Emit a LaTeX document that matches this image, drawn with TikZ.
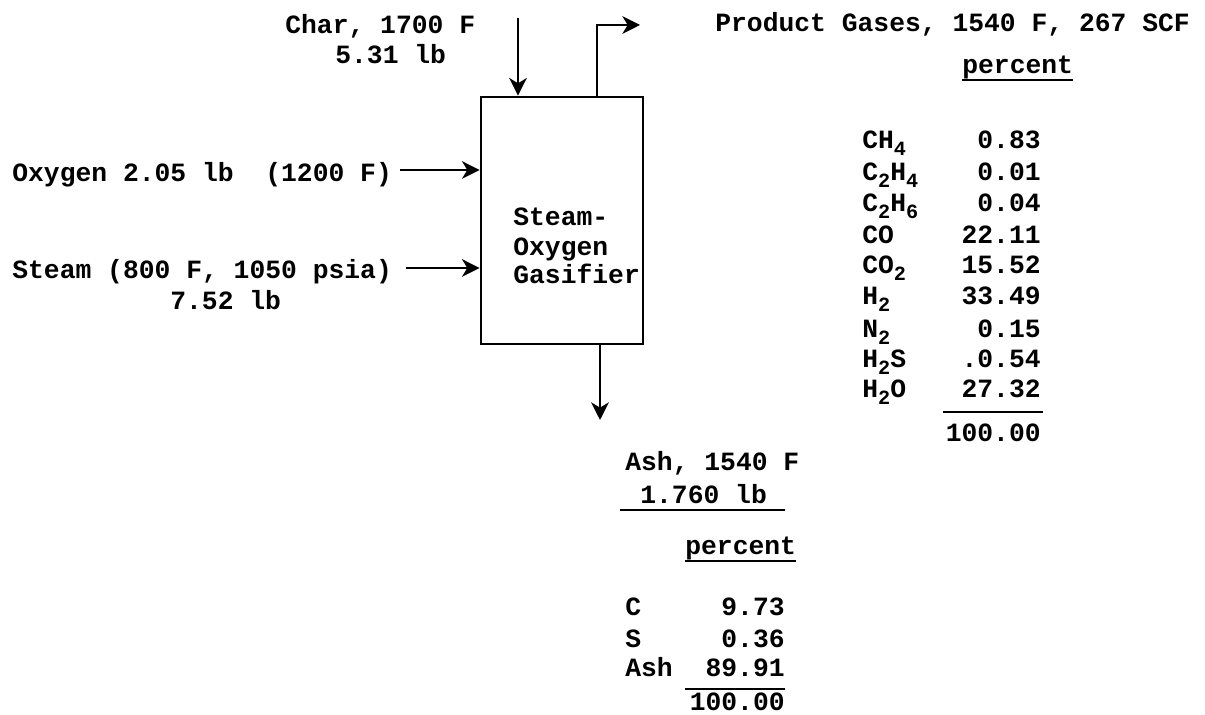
\documentclass[tikz,border=0pt]{standalone}
\usepackage{fontspec}
\setmonofont{Liberation Mono}
\usetikzlibrary{arrows.meta}
\newcommand\chsub[1]{\raisebox{-0.5ex}{\fontsize{11.5}{11.5}\selectfont #1}}
\tikzset{
  txt/.style={inner sep=0pt,font=\ttfamily\bfseries\fontsize{15}{18}\selectfont},
  arr/.style={line width=1.5pt,-{Stealth[length=10pt,width=10pt,inset=3pt]}},
  rule/.style={line width=1.3pt},
  vessel/.style={draw,line width=1.6pt,minimum width=3.24cm,minimum height=4.94cm,inner sep=0pt}
}
\begin{document}
\begin{tikzpicture}[x=0.02cm,y=-0.02cm]
\useasboundingbox (0,0) rectangle (1205,715);
% vessel
\node[vessel] (box) at (562,220.5) {};
\node[txt,anchor=base west] (t1) at (513,226) {Steam-};
\node[txt,anchor=base west] (t2) at (513,256) {Oxygen};
\node[txt,anchor=base west] (t3) at (513,284) {Gasifier};
% char in
\node[txt,anchor=base west] (char) at (285,34) {Char, 1700 F};
\node[txt,anchor=base west] (charw) at (335,64) {5.31 lb};
\coordinate (charin) at (518,18);
\draw[arr] (charin) -- (charin |- box.north);
% product gases out
\coordinate (gasup) at (597,25);
\coordinate (gasout) at (640,25);
\draw[arr] (gasup |- box.north) -- (gasup) -- (gasout);
\node[txt,anchor=base west] (prod) at (715,32) {Product Gases, 1540 F, 267 SCF};
\node[txt,anchor=base west] (pct1) at (962,74) {percent};
\draw[rule] (pct1.west |- 0,80) -- (pct1.east |- 0,80);
% oxygen
\node[txt,anchor=base west] (oxy) at (12,182) {Oxygen 2.05 lb\ \ (1200 F)};
\coordinate (oxin) at (400,170);
\draw[arr] (oxin) -- (oxin -| box.west);
% steam
\node[txt,anchor=base west] (steam) at (12,279) {Steam (800 F, 1050 psia)};
\node[txt,anchor=base west] (steamw) at (170,310) {7.52 lb};
\coordinate (stin) at (406,268);
\draw[arr] (stin) -- (stin -| box.west);
% gas table
\node[txt,anchor=base west] (g1) at (862,149) {CH\chsub{4}};
\node[txt,anchor=base west] (g2) at (862,181) {C\chsub{2}H\chsub{4}};
\node[txt,anchor=base west] (g3) at (862,212) {C\chsub{2}H\chsub{6}};
\node[txt,anchor=base west] (g4) at (862,244) {CO};
\node[txt,anchor=base west] (g5) at (862,274) {CO\chsub{2}};
\node[txt,anchor=base west] (g6) at (862,305) {H\chsub{2}};
\node[txt,anchor=base west] (g7) at (862,338) {N\chsub{2}};
\node[txt,anchor=base west] (g8) at (862,368) {H\chsub{2}S};
\node[txt,anchor=base west] (g9) at (862,398) {H\chsub{2}O};
\node[txt,anchor=base east] (v1) at (1041,149) {0.83};
\node[txt,anchor=base east] (v2) at (1041,181) {0.01};
\node[txt,anchor=base east] (v3) at (1041,212) {0.04};
\node[txt,anchor=base east] (v4) at (1041,244) {22.11};
\node[txt,anchor=base east] (v5) at (1041,274) {15.52};
\node[txt,anchor=base east] (v6) at (1041,305) {33.49};
\node[txt,anchor=base east] (v7) at (1041,338) {0.15};
\node[txt,anchor=base east] (v8) at (1041,368) {.0.54};
\node[txt,anchor=base east] (v9) at (1041,398) {27.32};
\draw[rule] (943,412) -- (1043,412);
\node[txt,anchor=base east] (vt) at (1041,442) {100.00};
% ash out
\coordinate (ashout) at (600,420);
\draw[arr] (ashout |- box.south) -- (ashout);
\node[txt,anchor=base west] (ash) at (625,471) {Ash, 1540 F};
\node[txt,anchor=base west] (ashw) at (640,504) {1.760 lb};
\draw[rule] (620,510) -- (785,510);
\node[txt,anchor=base west] (pct2) at (685,555) {percent};
\draw[rule] (pct2.west |- 0,561) -- (pct2.east |- 0,561);
\node[txt,anchor=base west] (a1) at (625,616) {C};
\node[txt,anchor=base west] (a2) at (625,648) {S};
\node[txt,anchor=base west] (a3) at (625,677) {Ash};
\node[txt,anchor=base east] (b1) at (785,616) {9.73};
\node[txt,anchor=base east] (b2) at (785,648) {0.36};
\node[txt,anchor=base east] (b3) at (785,677) {89.91};
\draw[rule] (685,689) -- (785,689);
\node[txt,anchor=base east] (bt) at (785,711) {100.00};
\end{tikzpicture}
\end{document}
